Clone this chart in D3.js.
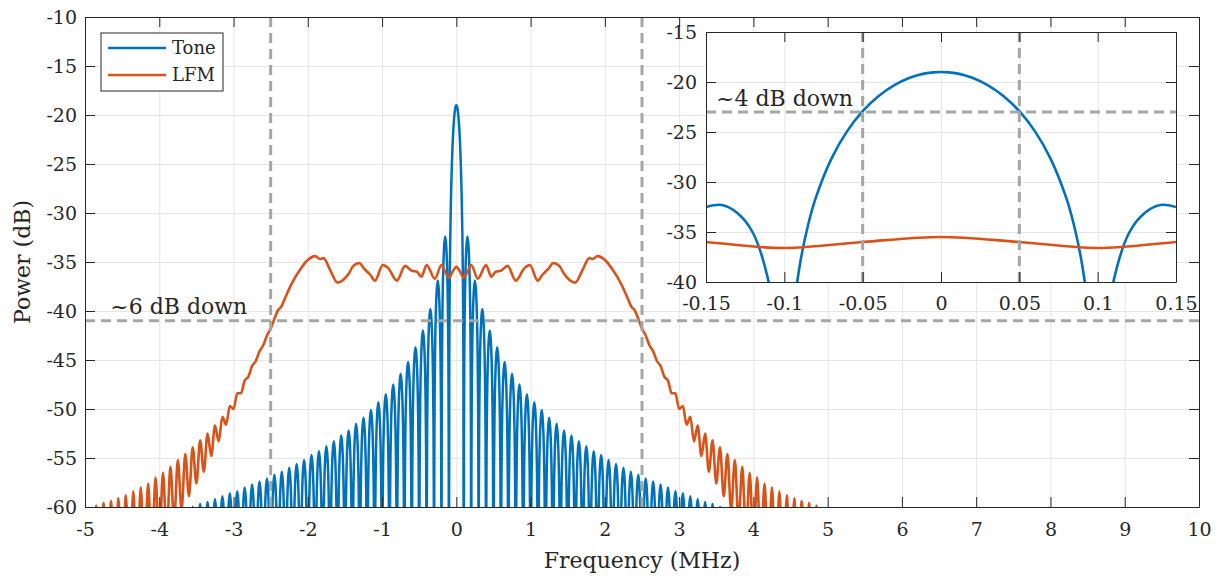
<!DOCTYPE html>
<html>
<head>
<meta charset="utf-8">
<script src="https://cdn.jsdelivr.net/npm/d3@7"></script>
<style>
  body { margin: 0; background: #fff; }
  svg text { font-family: "DejaVu Serif", serif; fill: #262626; }
</style>
</head>
<body>
<svg id="chart" width="1219" height="579"></svg>
<script>
// ---- values ----
const xTicks = [-5, -4, -3, -2, -1, 0, 1, 2, 3, 4, 5, 6, 7, 8, 9, 10];
const yTicks = [-60, -55, -50, -45, -40, -35, -30, -25, -20, -15, -10];
const insetXTicks = [-0.15, -0.1, -0.05, 0, 0.05, 0.1, 0.15];
const insetYTicks = [-40, -35, -30, -25, -20, -15];
const seriesNames = ["Tone", "LFM"];

// Tone: main lobe, positive half (MHz, dB). Spectrum is symmetric.
const toneMainLobe = [
  [0, -19.0], [0.005, -19.04], [0.01, -19.14], [0.015, -19.33], [0.02, -19.58],
  [0.03, -20.33], [0.04, -21.42], [0.05, -22.92], [0.06, -24.94], [0.07, -27.69],
  [0.08, -31.62], [0.085, -34.4], [0.09, -38.2], [0.095, -44.6]
];
// first sidelobe as it shows in the zoomed panel
const toneFirstSidelobe = [
  [0.1, -80], [0.105, -45.5], [0.11, -40.0], [0.12, -35.1], [0.13, -33.1],
  [0.14, -32.3], [0.15, -32.5]
];
// sidelobe peaks, lobe k sits between k*0.1 and (k+1)*0.1 MHz (k = 1, 2, ...)
const lobeWidth = 0.1;
const toneLobePeaks = [
  -32.4, -36.9, -39.8, -42.0, -43.7, -45.2, -46.4, -47.5, -48.5, -49.3,
  -50.1, -50.9, -51.5, -52.2, -52.7, -53.3, -53.8, -54.3, -54.7, -55.2,
  -55.6, -56.0, -56.4, -56.7, -57.1, -57.4, -57.7, -58.0, -58.4, -58.6,
  -58.9, -59.2, -59.5, -59.7, -60.0
];
// outline of one lobe: place across the lobe (0..1), dB under its peak
const lobeShape = [
  [0, -45], [0.03, -20], [0.08, -11.5], [0.15, -6.6], [0.25, -3.0], [0.35, -1.1],
  [0.5, 0], [0.65, -1.1], [0.75, -3.0], [0.85, -6.6], [0.92, -11.5], [0.97, -20]
];

// LFM: in-band ripple, positive half (MHz, dB)
const lfmBand = [
  [0, -35.5], [0.05, -36.0], [0.1, -36.6], [0.15, -36.0], [0.2, -35.3],
  [0.29, -36.7], [0.4, -35.3], [0.47, -36.5], [0.53, -36.0], [0.6, -35.9],
  [0.69, -35.4], [0.8, -36.9], [0.92, -35.6], [0.99, -35.3], [1.095, -36.9],
  [1.16, -36.3], [1.25, -35.6], [1.306, -35.1], [1.387, -35.4], [1.45, -36.2],
  [1.52, -36.8], [1.6, -37.1], [1.7, -35.8], [1.79, -34.6], [1.835, -34.7],
  [1.9, -34.4], [2.015, -34.9], [2.105, -35.8], [2.217, -37.2], [2.307, -38.7],
  [2.36, -39.6], [2.4, -39.9], [2.45, -40.8], [2.5, -41.8]
];
// LFM skirt outside the band: ripple tops and bottoms
const lfmSkirtPeaks = [
  [2.55, -42.5], [2.65, -44.1], [2.75, -45.6], [2.85, -47.1], [2.95, -48.4],
  [3.05, -49.7], [3.15, -50.8], [3.25, -51.7], [3.35, -52.5], [3.45, -53.2],
  [3.55, -53.9], [3.65, -54.6], [3.75, -55.2], [3.85, -55.9], [3.95, -56.5],
  [4.05, -57.0], [4.15, -57.6], [4.25, -58.0], [4.35, -58.4], [4.45, -58.8],
  [4.55, -59.1], [4.65, -59.4], [4.75, -59.6], [4.85, -59.85]
];
const lfmSkirtTroughs = [
  [2.6, -43.5], [2.7, -45.1], [2.8, -46.7], [2.9, -48.4], [3.0, -50.0],
  [3.1, -51.6], [3.2, -53.3], [3.3, -54.8], [3.4, -56.4], [3.5, -57.6],
  [3.6, -58.9], [3.7, -60.3], [3.8, -61.5], [3.9, -63], [4.0, -64],
  [4.1, -65], [4.2, -66], [4.3, -67], [4.4, -68], [4.5, -69],
  [4.6, -70], [4.7, -71], [4.8, -72], [4.9, -73]
];

// reference markers
const sixDbLevel = -41, bandEdge = 2.5;
const fourDbLevel = -23, halfLobe = 0.05;
const sixDbLabel = { text: "~6 dB down", f: -4.66, db: -40.3 };
const fourDbLabel = { text: "~4 dB down", f: -0.1436, db: -22.35 };

// ---- build series ----
const mirror = pts => pts.filter(d => d[0] > 0).reverse().map(d => [-d[0], d[1]]).concat(pts);

let tonePos = toneMainLobe.slice();
toneLobePeaks.forEach((peak, i) => {
  const k = i + 1;
  lobeShape.forEach(([u, off]) => tonePos.push([(k + u) * lobeWidth, peak + off]));
});
tonePos.push([(toneLobePeaks.length + 1) * lobeWidth, -100]);
const toneData = mirror(tonePos);
const toneInsetData = mirror(toneMainLobe.concat(toneFirstSidelobe));

const lfmPos = lfmBand.concat(lfmSkirtPeaks, lfmSkirtTroughs).sort((a, b) => a[0] - b[0]);
const lfmData = mirror(lfmPos);

// ---- drawing ----
const colors = { Tone: "#0072bd", LFM: "#d95319" };
const axisColor = "#262626", gridColor = "#e6e6e6", dashColor = "#a6a6a6";
const svg = d3.select("#chart");

const x = d3.scaleLinear([-5, 10], [85, 1199]);
const y = d3.scaleLinear([-60, -10], [507, 17]);
const ix = d3.scaleLinear([-0.15, 0.15], [706, 1176]);
const iy = d3.scaleLinear([-40, -15], [282, 32]);

const defs = svg.append("defs");
function addClip(id, xs, ys) {
  defs.append("clipPath").attr("id", id).append("rect")
    .attr("x", xs.range()[0]).attr("y", ys.range()[1])
    .attr("width", xs.range()[1] - xs.range()[0])
    .attr("height", ys.range()[0] - ys.range()[1]);
}
addClip("mainClip", x, y);
addClip("insetClip", ix, iy);

function grid(g, xs, ys, xt, yt) {
  const h = ys.range()[0] - ys.range()[1], w = xs.range()[1] - xs.range()[0];
  g.append("g").attr("transform", `translate(0,${ys.range()[0]})`)
    .call(d3.axisBottom(xs).tickValues(xt).tickSize(-h).tickFormat(""))
    .call(s => s.select(".domain").remove());
  g.append("g").attr("transform", `translate(${xs.range()[0]},0)`)
    .call(d3.axisLeft(ys).tickValues(yt).tickSize(-w).tickFormat(""))
    .call(s => s.select(".domain").remove());
  g.selectAll(".tick line").attr("stroke", gridColor).attr("stroke-width", 1);
}

function boxAxes(g, xs, ys, xt, yt, fmt, padB, padL) {
  const tl = 10;
  const x0 = xs.range()[0], x1 = xs.range()[1], y0 = ys.range()[0], y1 = ys.range()[1];
  g.append("g").attr("transform", `translate(0,${y0})`)
    .call(d3.axisBottom(xs).tickValues(xt).tickSizeInner(-tl).tickSizeOuter(0).tickPadding(padB).tickFormat(fmt));
  g.append("g").attr("transform", `translate(0,${y1})`)
    .call(d3.axisTop(xs).tickValues(xt).tickSizeInner(-tl).tickSizeOuter(0).tickFormat(""));
  g.append("g").attr("transform", `translate(${x0},0)`)
    .call(d3.axisLeft(ys).tickValues(yt).tickSizeInner(-tl).tickSizeOuter(0).tickPadding(padL).tickFormat(fmt));
  g.append("g").attr("transform", `translate(${x1},0)`)
    .call(d3.axisRight(ys).tickValues(yt).tickSizeInner(-tl).tickSizeOuter(0).tickFormat(""));
  g.selectAll("g").attr("font-family", "DejaVu Serif, serif").attr("font-size", 19).attr("color", axisColor);
  g.selectAll(".domain, .tick line").attr("stroke", axisColor).attr("stroke-width", 1);
}

function curve(g, data, xs, ys, color, width, clip, shape) {
  g.append("path").datum(data)
    .attr("clip-path", `url(#${clip})`)
    .attr("fill", "none").attr("stroke", color).attr("stroke-width", width)
    .attr("stroke-linejoin", "round")
    .attr("d", d3.line().x(d => xs(d[0])).y(d => ys(d[1])).curve(shape || d3.curveMonotoneX));
}

function dashed(g, x1, y1, x2, y2) {
  g.append("line").attr("x1", x1).attr("y1", y1).attr("x2", x2).attr("y2", y2)
    .attr("stroke", dashColor).attr("stroke-width", 3).attr("stroke-dasharray", "10,6");
}

// main axes
const main = svg.append("g");
main.append("rect").attr("x", 85).attr("y", 17).attr("width", 1114).attr("height", 490).attr("fill", "#fff");
grid(main.append("g"), x, y, xTicks, yTicks);
curve(main, toneData, x, y, colors.Tone, 2.5, "mainClip");
curve(main, lfmData, x, y, colors.LFM, 2.6, "mainClip");
dashed(main, x(-bandEdge), y(-10), x(-bandEdge), y(-60));
dashed(main, x(bandEdge), y(-10), x(bandEdge), y(-60));
dashed(main, x(-5), y(sixDbLevel), x(10), y(sixDbLevel));
main.append("text").attr("x", x(sixDbLabel.f)).attr("y", y(sixDbLabel.db))
  .attr("font-size", 22).text(sixDbLabel.text);
boxAxes(main.append("g"), x, y, xTicks, yTicks, d => String(d), 16, 8);

main.append("text").attr("x", 642).attr("y", 568).attr("text-anchor", "middle")
  .attr("font-size", 22).text("Frequency (MHz)");
main.append("text").attr("transform", "translate(30,262) rotate(-90)").attr("text-anchor", "middle")
  .attr("font-size", 22).text("Power (dB)");

// legend
const leg = svg.append("g");
leg.append("rect").attr("x", 101).attr("y", 33).attr("width", 122).attr("height", 58)
  .attr("fill", "#fff").attr("stroke", axisColor).attr("stroke-width", 1);
seriesNames.forEach((name, i) => {
  const ly = 48 + i * 27;
  leg.append("line").attr("x1", 108).attr("x2", 166).attr("y1", ly).attr("y2", ly)
    .attr("stroke", colors[name]).attr("stroke-width", 2.5);
  leg.append("text").attr("x", 172).attr("y", ly).attr("dy", "0.35em")
    .attr("font-size", 18).text(name);
});

// inset axes
const inset = svg.append("g");
inset.append("rect").attr("x", 706).attr("y", 32).attr("width", 470).attr("height", 250).attr("fill", "#fff");
grid(inset.append("g"), ix, iy, insetXTicks, insetYTicks);
curve(inset, toneInsetData, ix, iy, colors.Tone, 2.6, "insetClip", d3.curveCatmullRom.alpha(0.5));
curve(inset, lfmData.filter(d => Math.abs(d[0]) < 0.4), ix, iy, colors.LFM, 2.6, "insetClip", d3.curveCatmullRom.alpha(0.5));
dashed(inset, ix(-halfLobe), iy(-15), ix(-halfLobe), iy(-40));
dashed(inset, ix(halfLobe), iy(-15), ix(halfLobe), iy(-40));
dashed(inset, ix(-0.15), iy(fourDbLevel), ix(0.15), iy(fourDbLevel));
inset.append("text").attr("x", ix(fourDbLabel.f)).attr("y", iy(fourDbLabel.db))
  .attr("font-size", 22).text(fourDbLabel.text);
boxAxes(inset.append("g"), ix, iy, insetXTicks, insetYTicks, d => String(d), 14.5, 9);
</script>
</body>
</html>
